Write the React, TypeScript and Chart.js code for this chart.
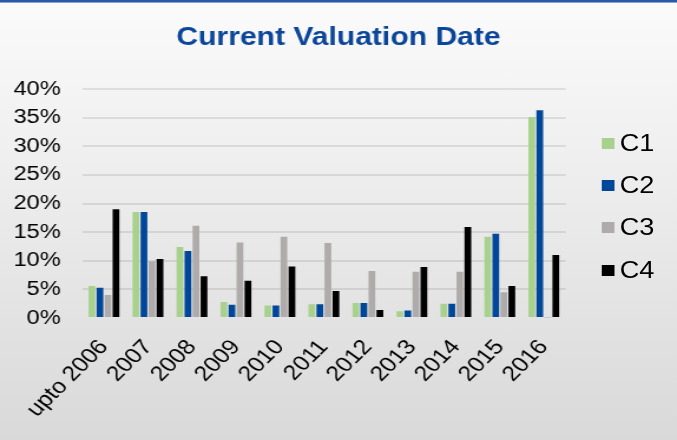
import React, { useEffect, useRef } from "react";
import { Chart, registerables } from "chart.js";

Chart.register(...registerables);

const categories = ["upto 2006", "2007", "2008", "2009", "2010", "2011", "2012", "2013", "2014", "2015", "2016"];
const seriesNames = ["C1", "C2", "C3", "C4"];
const seriesColors = ["#a9d18e", "#00479a", "#afabab", "#000000"];
const c1Values = [5.6, 18.5, 12.4, 2.8, 2.2, 2.4, 2.6, 1.2, 2.5, 14.2, 35.1];
const c2Values = [5.3, 18.5, 11.7, 2.3, 2.2, 2.4, 2.6, 1.3, 2.5, 14.7, 36.3];
const c3Values = [4.0, 9.9, 16.1, 13.2, 14.2, 13.1, 8.2, 8.1, 8.1, 4.5, 0.1];
const c4Values = [19.0, 10.3, 7.3, 6.5, 9.0, 4.7, 1.4, 8.9, 15.9, 5.6, 11.0];
const yTickValues = [0, 5, 10, 15, 20, 25, 30, 35, 40];
const titleText = "Current Valuation Date";

const seriesValues = [c1Values, c2Values, c3Values, c4Values];

const FULL_W = 677;
const FULL_H = 440;
const LOGICAL_W = 574;
const STRETCH = FULL_W / LOGICAL_W;
const FONT = "'Liberation Sans', Arial, sans-serif";

export default function App() {
  const canvasRef = useRef<HTMLCanvasElement | null>(null);

  useEffect(() => {
    document.body.style.margin = "0";
    const canvas = canvasRef.current;
    if (!canvas) return;
    const chart = new Chart(canvas, {
      type: "bar",
      data: {
        labels: categories,
        datasets: seriesNames.map((name, i) => ({
          label: name,
          data: seriesValues[i],
          backgroundColor: seriesColors[i],
          borderWidth: 0,
          categoryPercentage: 0.73,
          barPercentage: 0.84,
          yAxisID: "y",
        })),
      },
      options: {
        animation: false,
        responsive: true,
        maintainAspectRatio: false,
        layout: { padding: { top: 8, left: 0, right: 0, bottom: 0 } },
        plugins: {
          legend: { display: false },
          tooltip: { enabled: false },
          title: {
            display: true,
            text: titleText,
            color: "#0b4699",
            font: { family: FONT, size: 25.5, weight: "bold" },
            padding: { top: 15, bottom: 35.4 },
          },
        },
        scales: {
          x: {
            grid: { display: false },
            border: { display: false },
            ticks: {
              color: "#000",
              font: { family: FONT, size: 21 },
              minRotation: 49,
              maxRotation: 49,
              padding: 9,
              autoSkip: false,
            },
            afterFit: (s: any) => {
              s.height = 122;
            },
          },
          y: {
            min: 0,
            max: 40,
            afterBuildTicks: (s: any) => {
              s.ticks = yTickValues.map((v) => ({ value: v }));
            },
            ticks: {
              color: "#000",
              font: { family: FONT, size: 20 },
              padding: 18,
              callback: (v: any) => v + "%",
            },
            grid: {
              drawTicks: false,
              lineWidth: 2,
              color: (ctx: any) =>
                ctx.tick && ctx.tick.value === 0 ? "rgba(0,0,0,0)" : "rgba(0,0,0,0.09)",
            },
            border: { display: false },
            afterFit: (s: any) => {
              s.width = 69.5;
            },
          },
          legendSpace: {
            type: "linear",
            position: "right",
            display: true,
            grid: { display: false, drawTicks: false },
            border: { display: false },
            ticks: { display: false },
            afterFit: (s: any) => {
              s.width = 94.3;
            },
          },
        },
      },
    });
    return () => chart.destroy();
  }, []);

  return (
    <div
      style={{
        position: "relative",
        width: FULL_W,
        height: FULL_H,
        overflow: "hidden",
        background: "linear-gradient(to bottom, #fbfbfb 0%, #d9d9d9 100%)",
      }}
    >
      <div
        style={{
          position: "absolute",
          left: 0,
          top: 0,
          width: LOGICAL_W,
          height: FULL_H,
          transform: `scaleX(${STRETCH})`,
          transformOrigin: "0 0",
        }}
      >
        <canvas ref={canvasRef} />
        {seriesNames.map((name, i) => (
          <div
            key={name}
            style={{
              position: "absolute",
              left: 510,
              top: 143.5 + i * 42.2 - 15,
              height: 30,
              display: "flex",
              alignItems: "center",
              fontFamily: FONT,
              fontSize: 23,
              color: "#000",
            }}
          >
            <span
              style={{
                display: "inline-block",
                width: 11,
                height: 11,
                background: seriesColors[i],
                marginRight: 4.4,
              }}
            />
            <span>{name}</span>
          </div>
        ))}
      </div>
      <div
        style={{
          position: "absolute",
          left: 0,
          top: 0,
          width: FULL_W,
          height: 2,
          background: "#2a5ba8",
        }}
      />
      <div
        style={{
          position: "absolute",
          left: 0,
          top: 2,
          width: FULL_W,
          height: 1,
          background: "#86a3d3",
        }}
      />
    </div>
  );
}
